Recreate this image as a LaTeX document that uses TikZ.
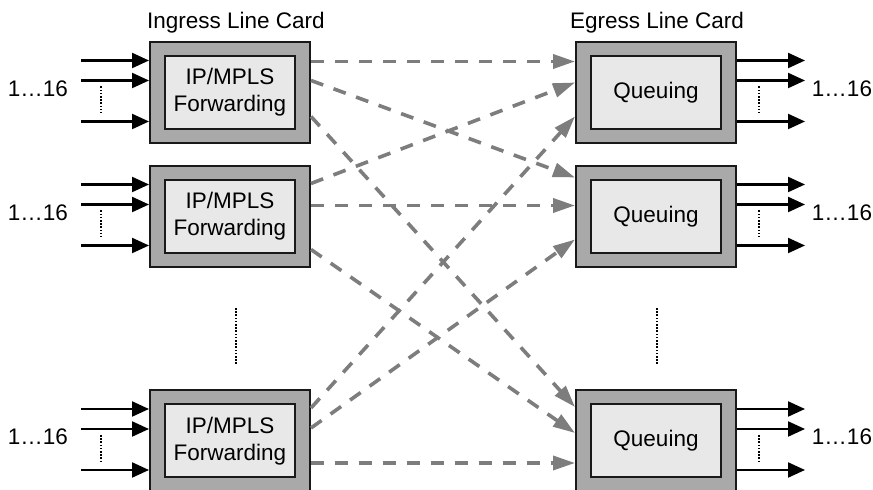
\documentclass[tikz,border=0pt]{standalone}
\usepackage{fontspec}
\setmainfont{Liberation Sans}
\usetikzlibrary{arrows.meta,calc,positioning}

\definecolor{cardgray}{HTML}{A9A9A9}
\definecolor{coregray}{HTML}{E8E8E8}
\definecolor{linkgray}{HTML}{7D7D7D}

\tikzset{
  card/.style={draw=black!90,line width=1pt,fill=cardgray,minimum width=80pt,minimum height=50.5pt,inner sep=0pt},
  core/.style={draw=black!90,line width=1pt,fill=coregray,minimum width=65pt,minimum height=36.5pt,inner sep=0pt,align=center,font=\fontsize{11.25}{13.5}\selectfont},
  port/.style={-{Triangle[length=8.5pt,width=7.5pt]},line width=1.1pt},
  link/.style={-{Triangle[length=11pt,width=7pt]},linkgray,line width=1.8pt,dash pattern=on 6.5pt off 5.5pt},
  more/.style={line width=1.1pt,dash pattern=on 0.8pt off 0.8pt},
  lbl/.style={font=\fontsize{11.25}{13.5}\selectfont,inner sep=0pt}
}

\begin{document}
\begin{tikzpicture}[x=0.5pt,y=-0.5pt]
    \useasboundingbox (0,0) rectangle (873,490);

    % schede
    \foreach \i/\y in {1/92.5,2/216.5,3/441}{
      \node[card] (in\i) at (230,\y) {};
      \node[core] (fw\i) at (in\i) {IP/MPLS\\Forwarding};
      \node[card] (out\i) at (656,\y) {};
      \node[core] (qu\i) at (out\i) {Queuing};
    }

    % titoli
    \node[lbl] (intitle) at (236,23) {Ingress Line Card};
    \node[lbl] (outtitle) at (657,23) {Egress Line Card};

    % porte
    \foreach \i in {1,2,3}{
      \foreach \dy in {-32,-12,29}{
        \draw[port] ($(in\i.west)+(-68,\dy)$) -- ($(in\i.west)+(0,\dy)$);
        \draw[port] ($(out\i.east)+(0,\dy)$) -- ($(out\i.east)+(68,\dy)$);
      }
      \draw[more] ($(in\i.west)+(-48,-6)$) -- ($(in\i.west)+(-48,20)$);
      \draw[more] ($(out\i.east)+(22,-6)$) -- ($(out\i.east)+(22,20)$);
      \node[lbl] (inlbl\i) at ($(in\i.west)+(-111,-4)$) {1…16};
      \node[lbl] (outlbl\i) at ($(out\i.east)+(105,-4)$) {1…16};
    }

    % puntini
    \draw[more] ($(in2.south)+(6,40)$) -- ($(in2.south)+(6,96)$);
    \draw[more] ($(out2.south)+(1,40)$) -- ($(out2.south)+(1,96)$);

    % collegamenti
    \foreach \a/\sa/\b/\sb in {1/-31/1/-31,1/-12/2/-39,1/24/3/-34,
                               2/-33/1/-10,2/-11/2/-11,2/33/3/-8,
                               3/-33/1/24,3/-13/2/23,3/22/3/22}{
      \draw[link] ($(in\a.east)+(0,\sa)$) -- ($(out\b.west)+(0,\sb)$);
    }
\end{tikzpicture}
\end{document}
